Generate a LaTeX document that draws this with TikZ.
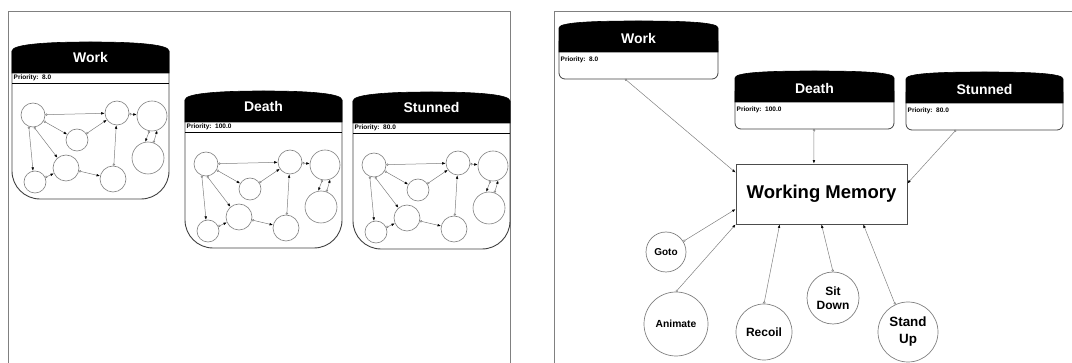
\documentclass[tikz,border=0pt]{standalone}
\usepackage{fontspec}
\setmainfont{Liberation Sans}
\usetikzlibrary{arrows.meta}

\begin{document}
\begin{tikzpicture}[x=1pt,y=-1pt,
  frame/.style={draw=gray, line width=0.8pt},
  hdr/.style={fill=black, draw=black, line width=0.6pt},
  body/.style={draw=black!75, line width=0.9pt},
  hdrtitle/.style={text=white, inner sep=0pt, font=\bfseries\fontsize{14}{16}\selectfont},
  prio/.style={anchor=west, inner sep=0pt, font=\bfseries\fontsize{6.5}{7}\selectfont},
  statecirc/.style={circle, draw=gray, line width=0.6pt, inner sep=0pt, minimum size=#1pt},
  behav/.style={circle, draw=gray, line width=0.7pt, inner sep=0pt, minimum size=#1pt, align=center},
  wmbox/.style={draw=black!70, line width=0.8pt, minimum width=171pt, minimum height=60pt,
    inner sep=0pt, font=\bfseries\fontsize{18.5}{22}\selectfont},
  link/.style={draw=gray, line width=0.5pt,
    {Circle[open,length=2.4pt,width=2.4pt,color=gray]}-{Latex[length=3.5pt,width=2.6pt,color=black]}}]

\useasboundingbox (0,0) rectangle (1072,363);
\clip (0,0) rectangle (1072,363);

% the two panels
\draw[frame] (8,11) rectangle (510,380);
\draw[frame] (554,11) rectangle (1090,380);

% left panel: behaviours with their inner graphs
\foreach \n/\dx/\dy/\title/\prio in {w/0/0/Work/8.0, d/173/49/Death/100.0, s/341/50/Stunned/80.0} {
  \begin{scope}[shift={(\dx,\dy)}]
    \draw[body, rounded corners=28pt] (12,51) -- (12,199) -- (169,199) -- (169,51);
    \draw[hdr] (12,73) -- (12,51) .. controls (12,45) and (40,42) .. (90.5,42)
      .. controls (141,42) and (169,45) .. (169,51) -- (169,73) -- cycle;
    \draw[line width=0.6pt] (12,83) -- (169,83);
    \node[hdrtitle] (\n-title) at (90.5,57) {\title};
    \node[prio] (\n-prio) at (13.5,78) {Priority:\ \ \prio};

    \node[statecirc=24] (\n-a) at (33,115) {};
    \node[statecirc=24] (\n-b) at (117,113) {};
    \node[statecirc=30] (\n-c) at (152,116) {};
    \node[statecirc=22] (\n-d) at (77,140) {};
    \node[statecirc=32] (\n-e) at (148,158) {};
    \node[statecirc=26] (\n-f) at (66,168) {};
    \node[statecirc=22] (\n-g) at (35,182) {};
    \node[statecirc=26] (\n-h) at (113,179) {};

    \draw[link] (\n-a) -- (\n-b);
    \draw[link] (\n-a) -- (\n-d);
    \draw[link] (\n-d) -- (\n-b);
    \draw[link] (\n-a.250) -- (\n-g.100);
    \draw[link] (\n-a.275) -- (\n-f.130);
    \draw[link] (\n-g) -- (\n-f);
    \draw[link] (\n-f) -- (\n-h);
    \draw[link] (\n-h) -- (\n-b);
    \draw[link] (\n-b) -- (\n-c);
    \draw[link] (\n-c.260) -- (\n-e.100);
    \draw[link] (\n-e.70) -- (\n-c.290);
  \end{scope}
}

% right panel: behaviours feeding the working memory
\foreach \n/\x/\y/\w/\o/\title/\prio in {rw/559/21/159/66/Work/8.0, rd/735/71/159/79/Death/100.0, rs/906/72/157/50/Stunned/80.0} {
  \begin{scope}[shift={(\x,\y)}]
    \draw[body, line width=0.8pt, rounded corners=6pt] (0,20) -- (0,58) -- (\w,58) -- (\w,20);
    \draw[hdr] (0,31) -- (0,7) .. controls (0,2) and (25,0) .. ({\w/2},0)
      .. controls ({\w-25},0) and (\w,2) .. (\w,7) -- (\w,31) -- cycle;
    \node[hdrtitle] (\n-title) at ({\w/2},17) {\title};
    \node[prio] (\n-prio) at (1.5,39) {Priority:\ \ \prio};
    \coordinate (\n-out) at (\o,58);
  \end{scope}
}

\node[wmbox] (wm) at (821.5,194) {Working Memory};

\node[behav=40, font=\bfseries\fontsize{10}{12}\selectfont] (goto) at (666,252) {Goto};
\node[behav=64, font=\bfseries\fontsize{10.3}{12}\selectfont] (animate) at (676,324) {Animate};
\node[behav=56, font=\bfseries\fontsize{12}{14}\selectfont] (recoil) at (764,332) {Recoil};
\node[behav=52, font=\bfseries\fontsize{12}{14.5}\selectfont] (sitdown) at (833,298) {Sit\\Down};
\node[behav=60, font=\bfseries\fontsize{13.4}{17}\selectfont] (standup) at (908,332) {Stand\\Up};

\draw[link] (rw-out) -- (wm.166);
\draw[link] (rd-out) -- (wm.104);
\draw[link] (rs-out) -- (wm.7);
\draw[link] (goto) -- (wm.190);
\draw[link] (animate.north) -- (wm.south west);
\draw[link] (recoil.north) -- (wm.216);
\draw[link] (sitdown.north) -- (wm.south);
\draw[link] (standup.115) -- (wm.324);

\end{tikzpicture}
\end{document}
